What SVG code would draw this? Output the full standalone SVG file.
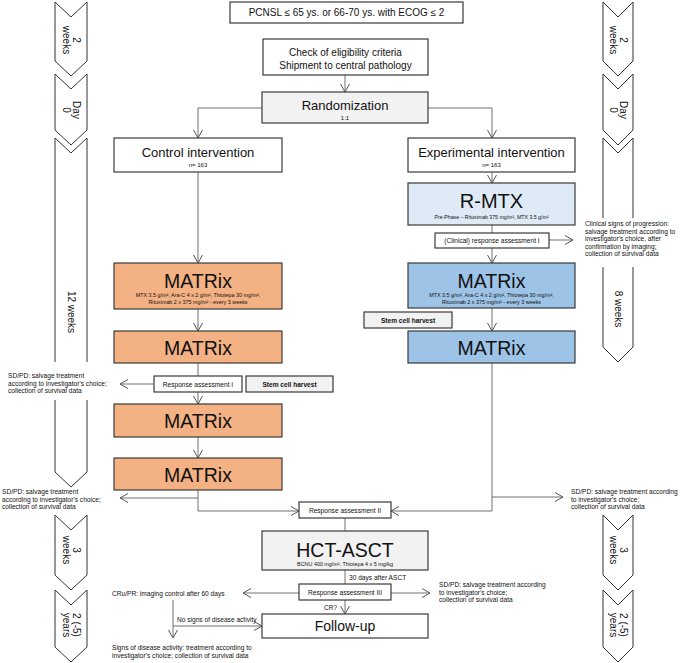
<svg xmlns="http://www.w3.org/2000/svg" width="685" height="663" viewBox="0 0 685 663">
<style>
.bx{stroke:#3a3a3a;stroke-width:1.2}
.w{fill:#fff}.g{fill:#f2f2f2}.o{fill:#f4b183}.b{fill:#9dc3e6}.lb{fill:#deebf7}
text{font-family:"Liberation Sans",Arial,sans-serif;fill:#111}
.c{stroke:#707070;stroke-width:1;fill:none}
.ch{fill:#fff;stroke:#333;stroke-width:1}
.s{font-size:6.6px}
.m{text-anchor:middle}
</style>
<defs>
<marker id="a" viewBox="0 0 8 10" refX="8" refY="5" markerWidth="8" markerHeight="10" markerUnits="userSpaceOnUse" orient="auto">
<path d="M0,0.5 L8,5 L0,9.5" fill="none" stroke="#555" stroke-width="1"/>
</marker>
</defs>
<rect width="685" height="663" fill="#fff"/>

<g id="timeline-left">
<path class="ch" d="M55,2 L71,17 L87,2 L87,61 L71,76 L55,61 Z"/>
<text transform="translate(71,40) rotate(90)" class="m" font-size="10"><tspan x="0" y="-1.5">2</tspan><tspan x="0" y="8.5">weeks</tspan></text>
<path class="ch" d="M55,74 L71,89 L87,74 L87,130 L71,145 L55,130 Z"/>
<text transform="translate(71,110) rotate(90)" class="m" font-size="10"><tspan x="0" y="-1.5">Day</tspan><tspan x="0" y="8.5">0</tspan></text>
<path class="ch" d="M55,138 L71,153 L87,138 L87,472 L71,487 L55,472 Z"/>
<rect x="50" y="362" width="42" height="38" fill="#fff"/>
<text transform="translate(71,312) rotate(90)" class="m" font-size="10" y="3.5">12 weeks</text>
<path class="ch" d="M55,515 L71,530 L87,515 L87,575 L71,590 L55,575 Z"/>
<text transform="translate(71,550) rotate(90)" class="m" font-size="10"><tspan x="0" y="-1.5">3</tspan><tspan x="0" y="8.5">weeks</tspan></text>
<path class="ch" d="M55,590 L71,605 L87,590 L87,647 L71,662 L55,647 Z"/>
<text transform="translate(71,625) rotate(90)" class="m" font-size="10"><tspan x="0" y="-1.5">2 (-5)</tspan><tspan x="0" y="8.5">years</tspan></text>
</g>

<g id="timeline-right">
<path class="ch" d="M603,2 L618,17 L633,2 L633,61 L618,76 L603,61 Z"/>
<text transform="translate(618,40) rotate(90)" class="m" font-size="10"><tspan x="0" y="-1.5">2</tspan><tspan x="0" y="8.5">weeks</tspan></text>
<path class="ch" d="M603,74 L618,89 L633,74 L633,130 L618,145 L603,130 Z"/>
<text transform="translate(618,110) rotate(90)" class="m" font-size="10"><tspan x="0" y="-1.5">Day</tspan><tspan x="0" y="8.5">0</tspan></text>
<path class="ch" d="M603,138 L618,153 L633,138 L633,347 L618,362 L603,347 Z"/>
<rect x="598" y="218" width="40" height="49" fill="#fff"/>
<text transform="translate(618,309) rotate(90)" class="m" font-size="10" y="3.5">8 weeks</text>
<path class="ch" d="M603,515 L618,530 L633,515 L633,575 L618,590 L603,575 Z"/>
<text transform="translate(618,550) rotate(90)" class="m" font-size="10"><tspan x="0" y="-1.5">3</tspan><tspan x="0" y="8.5">weeks</tspan></text>
<path class="ch" d="M603,590 L618,605 L633,590 L633,647 L618,662 L603,647 Z"/>
<text transform="translate(618,625) rotate(90)" class="m" font-size="10"><tspan x="0" y="-1.5">2 (-5)</tspan><tspan x="0" y="8.5">years</tspan></text>
</g>

<g id="connectors">
<path class="c" d="M345,75 V92" marker-end="url(#a)"/>
<path class="c" d="M262,108 H198 V138" marker-end="url(#a)"/>
<path class="c" d="M428,108 H492 V138" marker-end="url(#a)"/>
<path class="c" d="M198,172 V263" marker-end="url(#a)"/>
<path class="c" d="M198,309 V331" marker-end="url(#a)"/>
<path class="c" d="M198,363 V376"/>
<path class="c" d="M198,392 V404" marker-end="url(#a)"/>
<path class="c" d="M154,384 H120" marker-end="url(#a)"/>
<path class="c" d="M198,437 V458" marker-end="url(#a)"/>
<path class="c" d="M198,490 V511 H299" marker-end="url(#a)"/>
<path class="c" d="M198,498 H120" marker-end="url(#a)"/>
<path class="c" d="M492,172 V183" marker-end="url(#a)"/>
<path class="c" d="M492,225 V233"/>
<path class="c" d="M492,248 V263" marker-end="url(#a)"/>
<path class="c" d="M549,240 H573" marker-end="url(#a)"/>
<path class="c" d="M492,308 V331" marker-end="url(#a)"/>
<path class="c" d="M492,363 V511 H391" marker-end="url(#a)"/>
<path class="c" d="M492,497 H563" marker-end="url(#a)"/>
<path class="c" d="M345,518 V531"/>
<path class="c" d="M345,570 V584"/>
<path class="c" d="M299,593 H243" marker-end="url(#a)"/>
<path class="c" d="M391,593 H430" marker-end="url(#a)"/>
<path class="c" d="M345,600 V614" marker-end="url(#a)"/>
<path class="c" d="M173,600 V638" marker-end="url(#a)"/>
<path class="c" d="M173,626 H262" marker-end="url(#a)"/>
<text class="s" x="349" y="580">30 days after ASCT</text>
<text class="s" x="324" y="610">CR?</text>
<text class="s" x="177" y="622">No signs of disease activity</text>
</g>

<g id="pcnsl"><rect class="bx w" x="230" y="2" width="233" height="21"/><text class="m" x="346.5" y="16" font-size="10">PCNSL ≤ 65 ys. or 66-70 ys. with ECOG ≤ 2</text></g>
<g id="eligibility"><rect class="bx w" x="263" y="39" width="165" height="36"/><text class="m" x="345.5" y="55.5" font-size="10">Check of eligibility criteria</text><text class="m" x="345.5" y="68.5" font-size="10">Shipment to central pathology</text></g>
<g id="randomization"><rect class="bx g" x="262" y="92" width="166" height="31"/><text class="m" x="345" y="110" font-size="13">Randomization</text><text class="m" x="345" y="119.5" font-size="6">1:1</text></g>

<g id="control"><rect class="bx w" x="114" y="138" width="168" height="34"/><text class="m" x="198" y="157" font-size="13">Control intervention</text><text class="m" x="198" y="166.5" font-size="6">n= 163</text></g>
<g id="experimental"><rect class="bx w" x="408" y="138" width="167" height="34"/><text class="m" x="491.5" y="157" font-size="13">Experimental intervention</text><text class="m" x="491.5" y="166.5" font-size="6">n= 163</text></g>

<g id="rmtx"><rect class="bx lb" x="408" y="183" width="167" height="42"/><text class="m" x="491.5" y="208" font-size="20">R-MTX</text><text class="m" x="491.5" y="219" font-size="5.2">Pre-Phase – Rituximab 375 mg/m², MTX 3.5 g/m²</text></g>
<g id="clinical-ra1"><rect class="bx w" x="435" y="233" width="114" height="15"/><text class="m s" x="492" y="243">(Clinical) response assessment I</text></g>
<g id="clinical-signs"><text class="s" x="585"><tspan x="585" y="226">Clinical signs of progression:</tspan><tspan x="585" y="233.5">salvage treatment according to</tspan><tspan x="585" y="241">investigator's choice, after</tspan><tspan x="585" y="248.5">confirmation by imaging;</tspan><tspan x="585" y="256">collection of survival data</tspan></text></g>

<g id="matrix-c1"><rect class="bx o" x="114" y="263" width="168" height="46"/><text class="m" x="198" y="288" font-size="19.5">MATRix</text><text class="m" x="198" y="296.5" font-size="5.4">MTX 3.5 g/m², Ara-C 4 x 2 g/m², Thiotepa 30 mg/m²,</text><text class="m" x="198" y="304" font-size="5.4">Rituximab 2 x 375 mg/m² - every 3 weeks</text></g>
<g id="matrix-e1"><rect class="bx b" x="408" y="263" width="167" height="45"/><text class="m" x="491.5" y="288" font-size="19.5">MATRix</text><text class="m" x="491.5" y="296.5" font-size="5.4">MTX 3.5 g/m², Ara-C 4 x 2 g/m², Thiotepa 30 mg/m²,</text><text class="m" x="491.5" y="304" font-size="5.4">Rituximab 2 x 375 mg/m² - every 3 weeks</text></g>
<g id="stem-e"><rect class="bx g" x="364" y="312" width="88" height="16"/><text class="m s" x="408" y="322.5" font-weight="bold">Stem cell harvest</text></g>
<g id="matrix-c2"><rect class="bx o" x="114" y="331" width="168" height="32"/><text class="m" x="198" y="354.5" font-size="19.5">MATRix</text></g>
<g id="matrix-e2"><rect class="bx b" x="408" y="331" width="167" height="32"/><text class="m" x="491.5" y="354.5" font-size="19.5">MATRix</text></g>
<g id="ra1"><rect class="bx w" x="154" y="376" width="88" height="16"/><text class="m s" x="198" y="386.5">Response assessment I</text></g>
<g id="stem-c"><rect class="bx g" x="246" y="376" width="87" height="16"/><text class="m s" x="289.5" y="386.5" font-weight="bold">Stem cell harvest</text></g>
<g id="sdpd-1"><text class="s"><tspan x="8" y="378">SD/PD: salvage treatment</tspan><tspan x="8" y="385.5">according to investigator's choice;</tspan><tspan x="8" y="393">collection of survival data</tspan></text></g>
<g id="matrix-c3"><rect class="bx o" x="114" y="404" width="168" height="33"/><text class="m" x="198" y="428" font-size="19.5">MATRix</text></g>
<g id="matrix-c4"><rect class="bx o" x="114" y="458" width="168" height="32"/><text class="m" x="198" y="481.5" font-size="19.5">MATRix</text></g>
<g id="sdpd-2"><text class="s"><tspan x="2" y="494">SD/PD: salvage treatment</tspan><tspan x="2" y="501.5">according to investigator's choice;</tspan><tspan x="2" y="509">collection of survival data</tspan></text></g>
<g id="sdpd-3"><text class="s"><tspan x="571" y="494">SD/PD: salvage treatment according</tspan><tspan x="571" y="501.5">to investigator's choice;</tspan><tspan x="571" y="509">collection of survival data</tspan></text></g>
<g id="ra2"><rect class="bx w" x="299" y="502" width="92" height="16"/><text class="m s" x="345" y="512.5">Response assessment II</text></g>
<g id="hct"><rect class="bx g" x="262" y="531" width="166" height="39"/><text class="m" x="345" y="557" font-size="19.5">HCT-ASCT</text><text class="m" x="345" y="565.5" font-size="5.4">BCNU 400 mg/m², Thiotepa 4 x 5 mg/kg</text></g>
<g id="ra3"><rect class="bx w" x="299" y="584" width="92" height="16"/><text class="m s" x="345" y="594.5">Response assessment III</text></g>
<g id="cru"><text class="s" x="112" y="595.5">CRu/PR: imaging control after 60 days</text></g>
<g id="sdpd-4"><text class="s"><tspan x="439" y="587">SD/PD: salvage treatment according</tspan><tspan x="439" y="594.5">to investigator's choice;</tspan><tspan x="439" y="602">collection of survival data</tspan></text></g>
<g id="followup"><rect class="bx w" x="262" y="614" width="166" height="24"/><text class="m" x="345" y="631" font-size="14">Follow-up</text></g>
<g id="signs"><text class="s"><tspan x="112" y="650">Signs of disease activity: treatment according to</tspan><tspan x="112" y="657.5">investigator's choice; collection of survival data</tspan></text></g>
</svg>
